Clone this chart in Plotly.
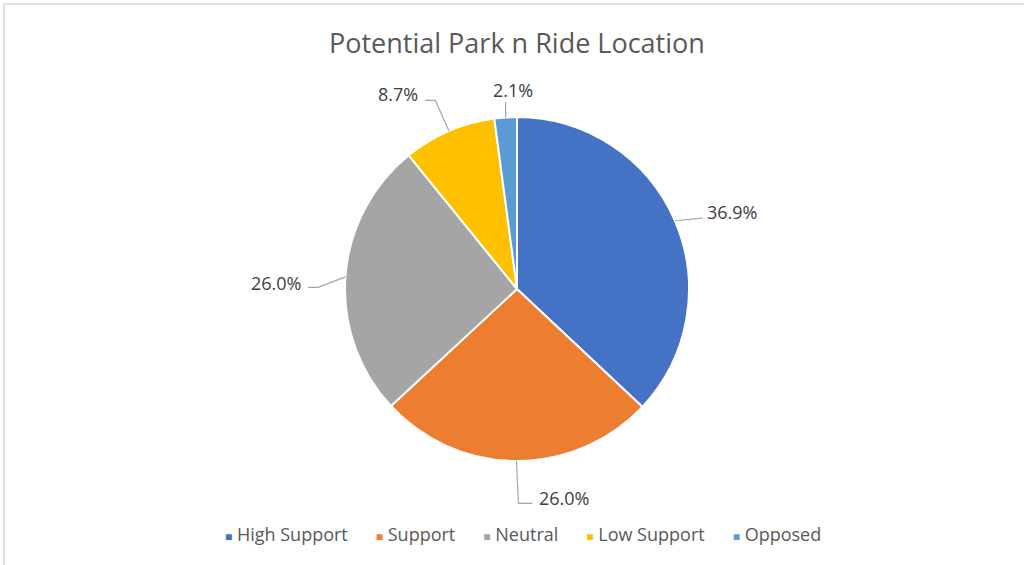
import math
import plotly.graph_objects as go

# Survey responses
categories = ["High Support", "Support", "Neutral", "Low Support", "Opposed"]
shares = [36.9, 26.0, 26.0, 8.7, 2.1]
colors = ["#4472C4", "#ED7D31", "#A5A5A5", "#FFC000", "#5B9BD5"]

W, H = 1024, 565
CX, CY, R = 517, 289, 172          # pie centre and radius in pixels

# label placement tweaks (pixel nudges from a point at 1.2 R) and text anchor
label_nudge = [(-1, 5), (21, 3), (-8, 9), (-15, -5), (10, 7)]
label_anchor = ["left", "left", "right", "right", "center"]


def px(x):
    return x / W


def py(y):
    return 1 - y / H


fig = go.Figure()
fig.add_trace(go.Pie(
    labels=categories,
    values=shares,
    marker=dict(colors=colors, line=dict(color="white", width=2)),
    sort=False,
    direction="clockwise",
    rotation=0,
    textinfo="none",
    hoverinfo="label+percent",
    showlegend=False,
    domain=dict(x=[px(CX - R), px(CX + R)], y=[py(CY + R), py(CY - R)]),
))

total = sum(shares)
annotations = []
shapes = []
cum = 0.0
for i, v in enumerate(shares):
    mid = (cum + v / 2) / total * 2 * math.pi
    cum += v
    ex, ey = CX + R * math.sin(mid), CY - R * math.cos(mid)
    lx = CX + 1.2 * R * math.sin(mid) + label_nudge[i][0]
    ly = CY - 1.2 * R * math.cos(mid) + label_nudge[i][1]
    annotations.append(dict(
        x=px(lx), y=py(ly), xref="paper", yref="paper",
        text=f"{v:.1f}%", showarrow=False,
        xanchor=label_anchor[i], yanchor="middle",
        font=dict(family="Open Sans", size=18, color="#404040"),
    ))
    # leader line from slice edge to its label
    if label_anchor[i] == "left":
        if abs(math.sin(mid)) > 0.5:
            pts = [(ex, ey), (lx - 3, ly + 6)]
        else:
            pts = [(ex, ey), (ex + 2, ly + 5), (lx - 5, ly + 5)]
    elif label_anchor[i] == "right":
        if abs(math.sin(mid)) > 0.9:
            pts = [(ex, ey), (lx + 15, ly + 4), (lx + 5, ly + 4)]
        else:
            pts = [(ex, ey), (lx + 15, ly + 6), (lx + 5, ly + 6)]
    else:
        pts = [(ex, ey), (ex, ly + 12)]
    path = "M " + " L ".join(f"{px(a)},{py(b)}" for a, b in pts)
    shapes.append(dict(type="path", xref="paper", yref="paper", path=path,
                       line=dict(color="#A6A6A6", width=1.2)))

# chart frame
shapes.append(dict(type="rect", xref="paper", yref="paper",
                   x0=px(4), x1=1.05, y0=-0.05, y1=py(4),
                   line=dict(color="#D9D9D9", width=1.5), fillcolor="rgba(0,0,0,0)"))

# legend row
gap = "&nbsp;" * 6
legend_text = gap.join(
    f"<span style='color:{c};font-size:12px'>■</span>&nbsp;{name}"
    for name, c in zip(categories, colors)
)
annotations.append(dict(
    x=px(523), y=py(534), xref="paper", yref="paper",
    text=legend_text, showarrow=False, xanchor="center", yanchor="middle",
    font=dict(family="Open Sans", size=18, color="#595959"),
))

# title
annotations.append(dict(
    x=px(517), y=py(43), xref="paper", yref="paper",
    text="Potential Park n Ride Location", showarrow=False,
    xanchor="center", yanchor="middle",
    font=dict(family="Open Sans", size=27, color="#595959"),
))

fig.update_layout(
    width=W, height=H,
    margin=dict(l=0, r=0, t=0, b=0),
    paper_bgcolor="white",
    plot_bgcolor="white",
    annotations=annotations,
    shapes=shapes,
    showlegend=False,
)

fig.write_html("out.html")
